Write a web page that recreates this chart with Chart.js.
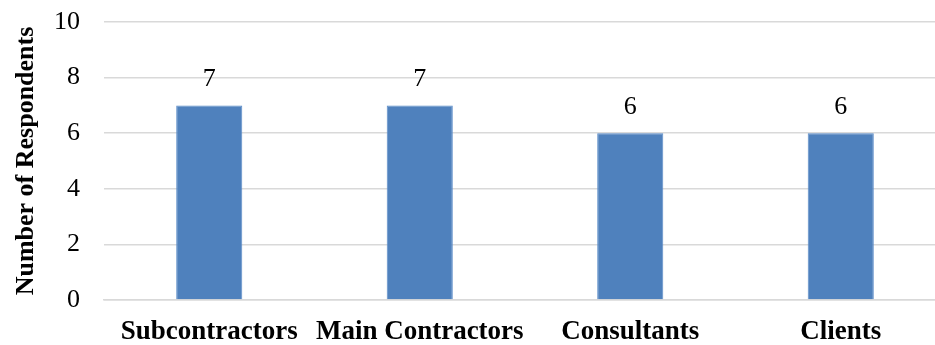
<!DOCTYPE html>
<html>
<head>
<meta charset="utf-8">
<script src="https://cdn.jsdelivr.net/npm/chart.js@4/dist/chart.umd.min.js"></script>
<style>
  html, body { margin: 0; padding: 0; background: #fff; overflow: hidden; }
  #wrap { width: 935px; height: 345px; overflow: hidden; }
</style>
</head>
<body>
<div id="wrap"><canvas id="respChart" width="946" height="345"></canvas></div>
<script>
const groups = ["Subcontractors", "Main Contractors", "Consultants", "Clients"];
const respondents = [7, 7, 6, 6];
const yTicks = [0, 2, 4, 6, 8, 10];

const serif = "'Liberation Serif', 'Times New Roman', serif";

// numbers on top of the bars
const valueLabels = {
    id: "valueLabels",
    afterDatasetsDraw(chart) {
        const ctx = chart.ctx;
        const meta = chart.getDatasetMeta(0);
        ctx.save();
        ctx.font = "26px " + serif;
        ctx.fillStyle = "#000";
        ctx.textAlign = "center";
        ctx.textBaseline = "alphabetic";
        meta.data.forEach((bar, i) => {
            ctx.fillText(respondents[i], bar.x, bar.y - 19);
        });
        ctx.restore();
    }
};

new Chart(document.getElementById("respChart"), {
    type: "bar",
    data: {
        labels: groups,
        datasets: [{
            data: respondents,
            backgroundColor: "#4F81BD",
            borderColor: "#5A8BC8",
            borderWidth: 1,
            barPercentage: 0.314,
            categoryPercentage: 1
        }]
    },
    options: {
        responsive: false,
        animation: false,
        devicePixelRatio: 1,
        layout: { padding: { top: 22, left: 0, right: 0, bottom: 0 } },
        plugins: {
            legend: { display: false },
            tooltip: { enabled: false }
        },
        scales: {
            x: {
                grid: { display: false },
                border: { color: "#d9d9d9", width: 1.5 },
                ticks: {
                    color: "#000",
                    font: { family: serif, size: 27, weight: "bold" },
                    padding: 8,
                    maxRotation: 0,
                    autoSkip: false
                },
                afterFit: s => { s.height = 45; s.paddingLeft = 0; s.paddingRight = 0; }
            },
            y: {
                min: 0,
                max: 10,
                afterBuildTicks: s => { s.ticks = yTicks.map(v => ({ value: v })); },
                grid: { color: "#d9d9d9", lineWidth: 1.5, drawTicks: false },
                border: { display: false },
                ticks: {
                    color: "#000",
                    font: { family: serif, size: 26 },
                    padding: 24
                },
                title: {
                    display: true,
                    text: "Number of Respondents",
                    color: "#000",
                    font: { family: serif, size: 26, weight: "bold" },
                    padding: { top: 11, bottom: 0 }
                },
                afterFit: s => { s.width = 104; s.paddingTop = 0; s.paddingBottom = 0; }
            }
        }
    },
    plugins: [valueLabels]
});
</script>
</body>
</html>
